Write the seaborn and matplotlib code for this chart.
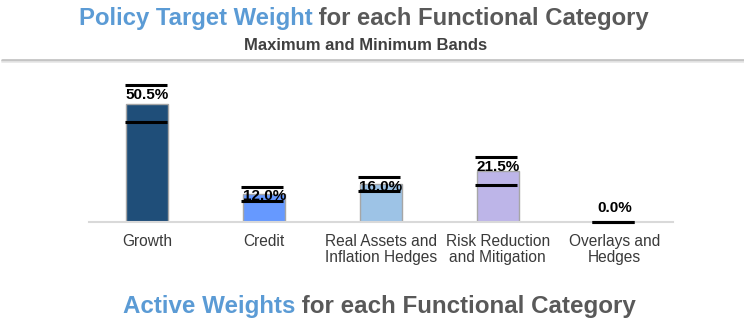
import matplotlib
matplotlib.use("Agg")
import matplotlib.pyplot as plt
from matplotlib.lines import Line2D
import seaborn as sns
import pandas as pd

# Functional categories and their policy target weights (%)
categories = [
    "Growth",
    "Credit",
    "Real Assets and\nInflation Hedges",
    "Risk Reduction\nand Mitigation",
    "Overlays and\nHedges",
]
target_weights = [50.5, 12.0, 16.0, 21.5, 0.0]
band_max = [58.5, 15.0, 19.0, 27.5, 0.0]
band_min = [42.5, 9.0, 13.0, 15.5, 0.0]
bar_colors = ["#1F4E79", "#6699FF", "#9DC3E6", "#BDB5E8", "#A5A5A5"]

sns.set_theme(style="white")
plt.rcParams["font.family"] = ["Liberation Sans", "DejaVu Sans"]

W, H = 744, 332
fig = plt.figure(figsize=(W / 100, H / 100), dpi=100)
fig.patch.set_facecolor("white")

ax = fig.add_axes([89 / W, 1 - 221.7 / H, 584 / W, 140.2 / H])
df = pd.DataFrame({"category": categories, "weight": target_weights})
sns.barplot(
    data=df, x="category", y="weight", hue="category", palette=bar_colors,
    saturation=1, width=0.36, edgecolor="#A6A6A6", linewidth=1.0,
    legend=False, ax=ax,
)
ax.set_xlim(-0.5, 4.5)
ax.set_ylim(0, 60)
ax.set_xlabel("")
ax.set_ylabel("")
ax.set_yticks([])
for side in ["left", "right", "top"]:
    ax.spines[side].set_visible(False)
ax.spines["bottom"].set_color("#D9D9D9")
ax.spines["bottom"].set_linewidth(1.5)
ax.tick_params(axis="x", length=0, pad=9, labelsize=11.2, labelcolor="#3A3A3A")
for lbl in ax.get_xticklabels():
    lbl.set_linespacing(1.1)

# Maximum / minimum band markers
half = 0.18
for i, (hi, lo) in enumerate(zip(band_max, band_min)):
    ax.hlines([hi, lo], i - half - 0.015, i + half - 0.015, color="black",
              lw=2.2, clip_on=False, zorder=4)

# Target weight labels
for i, (v, hi) in enumerate(zip(target_weights, band_max)):
    if hi > v:
        ax.annotate(f"{v:.1f}%", (i, hi), xytext=(0, -2), textcoords="offset points",
                    ha="center", va="top", fontsize=11, fontweight="bold",
                    color="black", zorder=5, annotation_clip=False)
    else:
        ax.annotate(f"{v:.1f}%", (i, v), xytext=(0, 5), textcoords="offset points",
                    ha="center", va="bottom", fontsize=11, fontweight="bold",
                    color="black", zorder=5, annotation_clip=False)

renderer = fig.canvas.get_renderer()


def two_tone_title(xc, y, first, second, size):
    t1 = fig.text(0, y, first, fontsize=size, fontweight="bold", color="#5B9BD5",
                  ha="left", va="center")
    t2 = fig.text(0, y, " " + second, fontsize=size, fontweight="bold",
                  color="#595959", ha="left", va="center")
    w1 = t1.get_window_extent(renderer).width / W
    w2 = t2.get_window_extent(renderer).width / W
    x0 = xc - (w1 + w2) / 2
    t1.set_x(x0)
    t2.set_x(x0 + w1)


two_tone_title(0.489, 1 - 18 / H, "Policy Target Weight", "for each Functional Category", 17.2)
fig.text(0.492, 1 - 45 / H, "Maximum and Minimum Bands", fontsize=12,
         fontweight="bold", color="#404040", ha="center", va="center")
two_tone_title(0.51, 1 - 307 / H, "Active Weights", "for each Functional Category", 17.4)

# Separator rule under the heading
fig.add_artist(Line2D([2 / W, 1], [1 - 59.5 / H] * 2, color="#C4C4C4", lw=2.0))
fig.add_artist(Line2D([2 / W, 1], [1 - 61.5 / H] * 2, color="#E6E6E6", lw=1.2))

fig.savefig("out.png", dpi=100, facecolor="white")
